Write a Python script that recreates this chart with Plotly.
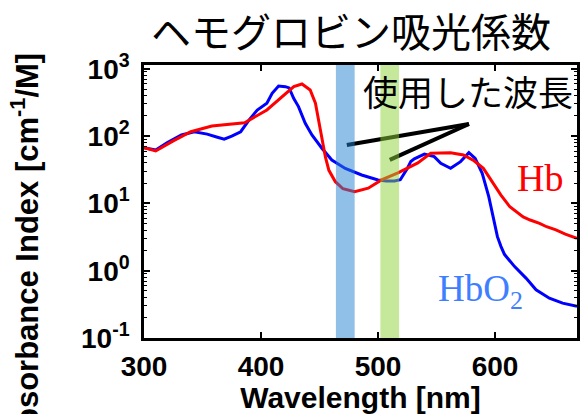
import plotly.graph_objects as go

# Absorption spectra of hemoglobin (deoxy: Hb, oxy: HbO2)
hb_wavelength = [300, 305, 310, 325, 340, 358, 386, 405, 416, 428, 435, 442, 446.5,
                 449.3, 452.2, 455, 458, 463.5, 470, 480, 491.6, 503, 517, 534, 545,
                 562, 573, 582, 590, 598, 605, 612.6, 624, 630, 638, 644, 652, 660, 670]
hb_absorbance = [67, 63, 60, 85, 116, 141, 158, 244, 363, 542, 594, 484, 307,
                 173, 98, 49, 31, 21, 16.5, 14.9, 16.8, 22.3, 28.5, 40, 55.5,
                 56.6, 52.4, 43, 33.2, 19.9, 13.3, 8.9, 6.3, 5.66, 5.06, 4.5, 4.03, 3.5, 3.03]

hbo2_wavelength = [300, 305, 310, 320, 332, 343, 354, 362, 368.5, 375, 382.6, 389.7,
                   396.8, 405, 409.5, 415, 420.8, 424, 428, 432, 437.8, 443.5, 452,
                   460.5, 472, 486, 500, 507, 514, 519, 525, 528, 531, 539.6, 548,
                   553.6, 562, 570.5, 577.6, 583, 589, 594.6, 599, 602, 605, 608,
                   616.7, 626.6, 635, 646.4, 657.7, 670]
hbo2_absorbance = [67, 64, 62, 80, 104, 116, 107, 97, 90, 100, 116, 173,
                   244, 307, 432, 555, 542, 520, 360, 274, 155, 104, 66,
                   44, 33, 26.4, 22.3, 21.5, 21.5, 22.5, 33, 42, 46, 54, 49.5,
                   39.4, 33.2, 41.7, 56.6, 46.7, 28, 12.6, 5.66, 3.2, 2.3, 1.75,
                   1.15, 0.77, 0.52, 0.39, 0.33, 0.295]

# Wavelength bands used (nm)
band_ranges = [(464, 480), (502, 518)]
band_colors = ["rgba(33,129,209,0.5)", "rgba(139,209,53,0.5)"]

# Pointer lines from the "使用した波長" label to the two bands
pointer_x = [[473.3, 577.7], [510.0, 577.7]]
pointer_y = [[73.8, 151.4], [44.2, 151.4]]

x_ticks = [300, 400, 500, 600]
y_tick_vals = [0.1, 1, 10, 100, 1000]
y_tick_text = ["10<sup>-1</sup>", "10<sup>0</sup>", "10<sup>1</sup>",
               "10<sup>2</sup>", "10<sup>3</sup>"]
y_minor_vals = [k * 10.0 ** e for e in range(-1, 3) for k in range(2, 10)]

sans = "Liberation Sans, Arial, sans-serif"
serif = "Liberation Serif, Times New Roman, serif"
cjk = "Noto Sans CJK JP, sans-serif"

fig = go.Figure()

for xs, ys in zip(pointer_x, pointer_y):
    fig.add_trace(go.Scatter(x=xs, y=ys, mode="lines",
                             line=dict(color="black", width=4),
                             showlegend=False, hoverinfo="skip"))

fig.add_trace(go.Scatter(x=hbo2_wavelength, y=hbo2_absorbance, mode="lines",
                         name="HbO2", line=dict(color="#0000ff", width=3)))
fig.add_trace(go.Scatter(x=hb_wavelength, y=hb_absorbance, mode="lines",
                         name="Hb", line=dict(color="#ff0000", width=3)))

for (x0, x1), col in zip(band_ranges, band_colors):
    fig.add_shape(type="rect", xref="x", yref="paper", x0=x0, x1=x1, y0=0, y1=1,
                  fillcolor=col, line=dict(width=0), layer="above")


def label(text, x, y, font, angle=0):
    fig.add_annotation(text=text, xref="paper", yref="paper", x=x, y=y,
                       xanchor="center", yanchor="middle", textangle=angle,
                       showarrow=False, font=font)


label("ヘモグロビン吸光係数", 0.479, 1.128, dict(family=cjk, size=40, color="black"))
label("使用した波長", 0.748, 0.905, dict(family=cjk, size=35, color="black"))
label("Hb", 0.915, 0.585, dict(family=serif, size=38, color="#ff0000"))
label("HbO<sub>2</sub>", 0.776, 0.17, dict(family=serif, size=37, color="#3f7fff"))
label("Absorbance Index [cm<sup>-1</sup>/M]", -0.276, 0.319,
      dict(family=sans, size=31, color="black", weight="bold"), angle=-90)

fig.update_xaxes(range=[300, 670], tickvals=x_ticks, ticks="inside", ticklen=6,
                 tickwidth=2, tickcolor="black", showline=True, linewidth=2.5,
                 linecolor="black", mirror="ticks", showgrid=False, zeroline=False,
                 ticklabelstandoff=2,
                 tickfont=dict(family=sans, size=28, color="black", weight="bold"),
                 title=dict(text="Wavelength [nm]", standoff=3,
                            font=dict(family=sans, size=30, color="black", weight="bold")))
fig.update_yaxes(type="log", range=[-1, 3.056], tickmode="array",
                 tickvals=y_tick_vals, ticktext=y_tick_text,
                 ticks="inside", ticklen=6, tickwidth=2, tickcolor="black",
                 minor=dict(tickmode="array", tickvals=y_minor_vals, ticks="inside",
                            ticklen=3, tickwidth=1, tickcolor="black", showgrid=False),
                 showline=True, linewidth=2.5, linecolor="black", mirror="ticks",
                 showgrid=False, zeroline=False, ticklabelstandoff=6,
                 tickfont=dict(family=sans, size=28, color="black", weight="bold"))

fig.update_layout(width=583, height=414, margin=dict(l=144, r=3, t=65, b=76),
                  paper_bgcolor="white", plot_bgcolor="white", showlegend=False)

fig.write_html("out.html")
